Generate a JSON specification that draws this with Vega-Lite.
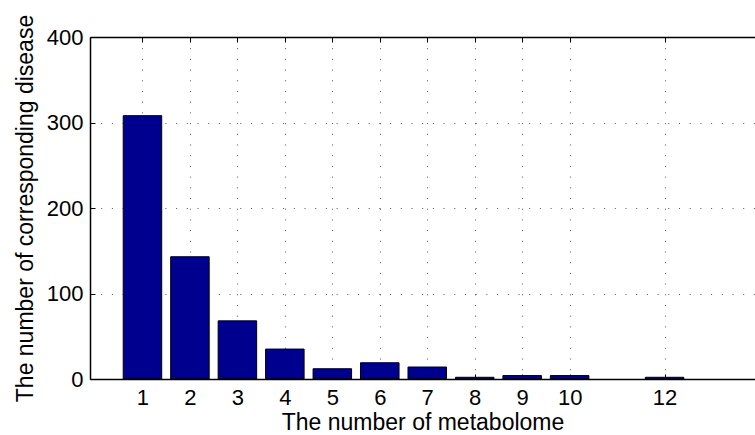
{
  "$schema": "https://vega.github.io/schema/vega-lite/v6.json",
  "autosize": {"type": "none"},
  "padding": {"left": 90, "top": 37, "right": 0, "bottom": 56},
  "width": 665,
  "height": 342,
  "background": "white",
  "config": {
    "view": {"stroke": null},
    "font": "Liberation Sans",
    "axis": {
      "labelFont": "Liberation Sans",
      "titleFont": "Liberation Sans",
      "labelFontSize": 22,
      "titleFontSize": 23,
      "titleFontWeight": "normal",
      "labelColor": "black",
      "titleColor": "black",
      "domainColor": "black",
      "domainWidth": 1.5,
      "tickColor": "black",
      "tickWidth": 1,
      "gridColor": "#444444",
      "gridDash": [1, 9.7],
      "gridWidth": 1,
      "gridOpacity": 0.9
    }
  },
  "data": {
    "values": [
      {"metabolome": 1, "disease": 308},
      {"metabolome": 2, "disease": 143},
      {"metabolome": 3, "disease": 68},
      {"metabolome": 4, "disease": 35},
      {"metabolome": 5, "disease": 12},
      {"metabolome": 6, "disease": 19},
      {"metabolome": 7, "disease": 14},
      {"metabolome": 8, "disease": 2},
      {"metabolome": 9, "disease": 4},
      {"metabolome": 10, "disease": 4},
      {"metabolome": 12, "disease": 2}
    ]
  },
  "layer": [
    {
      "mark": {"type": "bar", "width": 38.5, "fill": "#00008F", "stroke": "black", "strokeWidth": 1},
      "encoding": {
        "x": {
          "field": "metabolome", "type": "quantitative",
          "scale": {"domain": [0, 13.8], "nice": false, "zero": false},
          "axis": {
            "values": [1, 2, 3, 4, 5, 6, 7, 8, 9, 10, 12],
            "title": "The number of metabolome",
            "tickSize": -5,
            "labelPadding": 13,
            "titlePadding": 3,
            "grid": true
          }
        },
        "y": {
          "field": "disease", "type": "quantitative",
          "scale": {"domain": [0, 400], "nice": false},
          "axis": {
            "values": [0, 100, 200, 300, 400],
            "title": "The number of corresponding disease",
            "tickSize": -5,
            "labelPadding": 12,
            "titlePadding": 9,
            "grid": true
          }
        }
      }
    },
    {
      "mark": {"type": "rule", "opacity": 0},
      "encoding": {
        "x": {
          "field": "metabolome", "type": "quantitative",
          "axis": {
            "orient": "top",
            "values": [1, 2, 3, 4, 5, 6, 7, 8, 9, 10, 12],
            "labels": false,
            "title": null,
            "tickSize": -5,
            "grid": false
          }
        }
      }
    }
  ],
  "resolve": {"axis": {"x": "independent"}}
}
